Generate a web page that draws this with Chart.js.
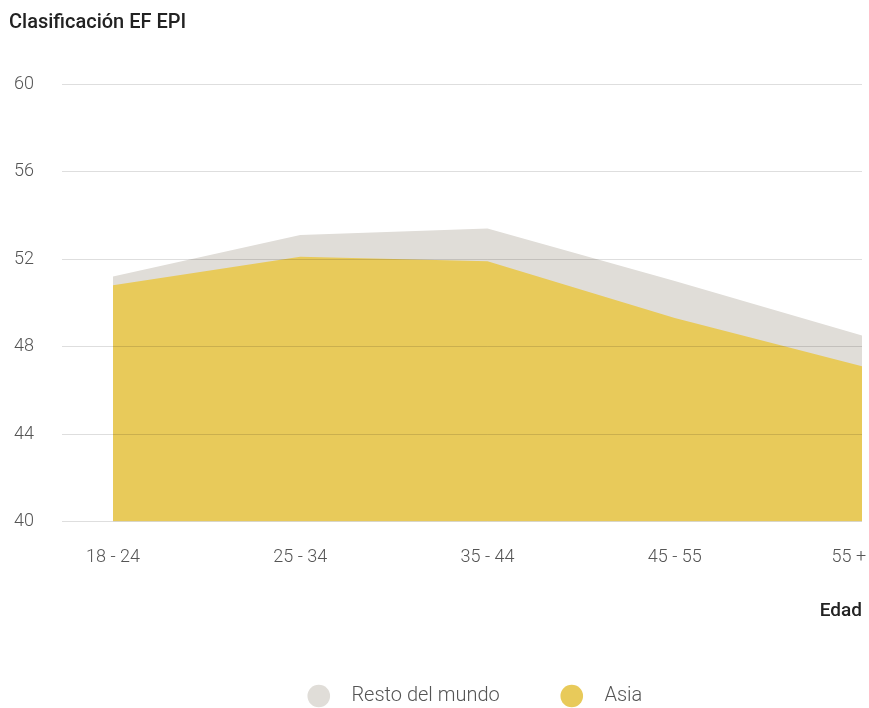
<!DOCTYPE html>
<html>
<head>
<meta charset="utf-8">
<script src="https://cdn.jsdelivr.net/npm/chart.js@4.4.1/dist/chart.umd.min.js"></script>
<style>
  html, body { margin: 0; padding: 0; background: #fff; overflow: hidden; }
  #wrap { width: 869px; height: 708px; }
</style>
</head>
<body>
<div id="wrap"><canvas id="mycanvas"></canvas></div>
<script>
var edades = ['18 - 24', '25 - 34', '35 - 44', '45 - 55', '55 +'];
var restoMundo = [51.2, 53.1, 53.4, 51.0, 48.5];
var asia = [50.8, 52.1, 51.9, 49.3, 47.1];
var yTicks = [40, 44, 48, 52, 56, 60];

var textColor = '#555';
var lightFont = { family: 'Roboto', size: 18, weight: '300' };

var chartdata = {
	labels: edades,
	datasets: [
		{
			label: 'Resto del mundo',
			data: restoMundo,
			backgroundColor: '#e0ddd8',
			borderColor: '#e0ddd8',
			borderWidth: 0,
			fill: 'start',
			pointRadius: 0,
			order: 2
		},
		{
			label: 'Asia',
			data: asia,
			backgroundColor: '#e8ca5a',
			borderColor: '#e8ca5a',
			borderWidth: 0,
			fill: 'start',
			pointRadius: 0,
			order: 1
		}
	]
};

// corre la leyenda hacia la derecha como en el original
var legendShift = {
	id: 'legendShift',
	afterLayout: function(chart) {
		chart.legend.left += 41;
		chart.legend.right += 41;
	}
};

var ctx = document.getElementById('mycanvas');

var areaChart = new Chart(ctx, {
	type: 'line',
	data: chartdata,
	plugins: [legendShift],
	options: {
		responsive: true,
		maintainAspectRatio: false,
		animation: false,
		events: [],
		layout: { padding: { left: 9, right: 7, top: 0, bottom: -8 } },
		plugins: {
			tooltip: { enabled: false },
			title: {
				display: true,
				text: 'Clasificación EF EPI',
				align: 'start',
				color: '#222',
				font: { family: 'Roboto', size: 20, weight: '500' },
				padding: { top: 10.5, bottom: 49.5 }
			},
			legend: {
				position: 'bottom',
				labels: {
					usePointStyle: true,
					pointStyle: 'circle',
					boxWidth: 16,
					boxHeight: 16,
					padding: 64,
					color: textColor,
					font: { family: 'Roboto', size: 20, weight: '300' },
					sort: function(a, b) { return a.datasetIndex - b.datasetIndex; },
					generateLabels: function(chart) {
						var items = Chart.defaults.plugins.legend.labels.generateLabels(chart);
						items.forEach(function(it) { it.text = '   ' + it.text; it.lineWidth = 0; });
						return items;
					}
				}
			}
		},
		scales: {
			x: {
				grid: { display: false, drawTicks: false },
				border: { display: false },
				ticks: {
					color: textColor,
					font: lightFont,
					padding: 25,
					maxRotation: 0,
					autoSkip: false,
					callback: function(value, index) {
						var l = this.getLabelForValue(value);
						// el último rótulo se corre hacia dentro
						return index === edades.length - 1 ? l + '      ' : l;
					}
				},
				title: {
					display: true,
					text: 'Edad',
					align: 'end',
					color: '#222',
					font: { family: 'Roboto', size: 19, weight: '500' },
					padding: { top: 6.2, bottom: -0.2 }
				},
				afterFit: function(scale) { scale.paddingRight = 0; }
			},
			y: {
				min: 40,
				max: 60,
				z: 1,
				border: { display: false },
				grid: {
					color: 'rgba(0,0,0,0.13)',
					lineWidth: 1,
					tickLength: 51,
					z: 1
				},
				afterBuildTicks: function(scale) {
					scale.ticks = yTicks.map(function(v) { return { value: v }; });
				},
				ticks: {
					color: textColor,
					font: lightFont,
					padding: 28
				},
				afterFit: function(scale) { scale.width = 104; }
			}
		}
	}
});
</script>
</body>
</html>
